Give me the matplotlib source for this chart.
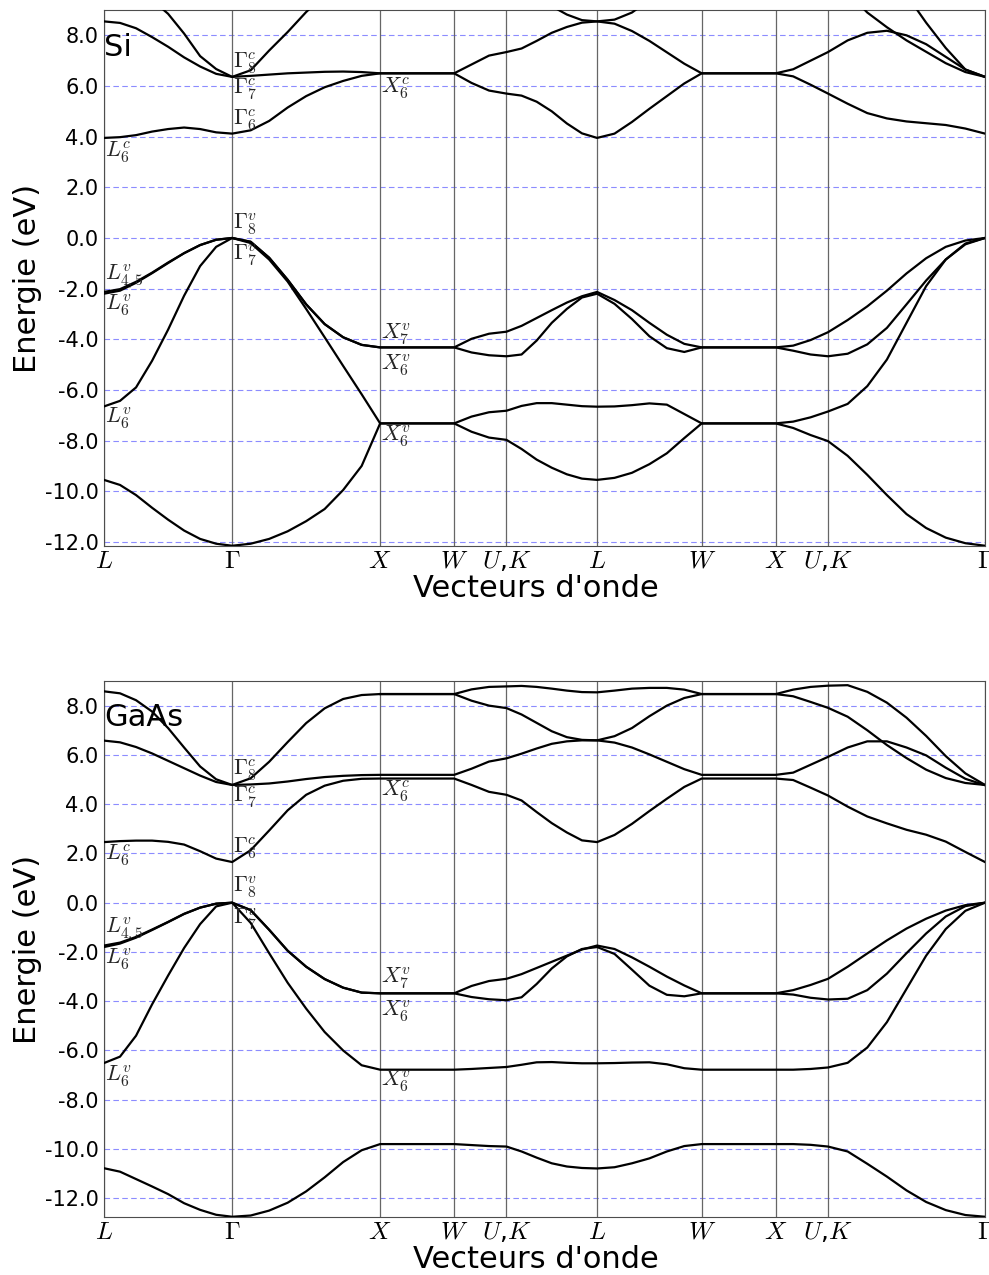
import numpy as np
import matplotlib
matplotlib.use("Agg")  # no display
import matplotlib.pyplot as plt
from matplotlib.ticker import FormatStrFormatter

plt.rcParams["mathtext.fontset"] = "cm"
plt.rcParams["axes.unicode_minus"] = False

nan = np.nan

# path L-G-X-W-K-L-W-X-U-G of the fcc zone, lengths in units of 2pi/a
kpath_labels = [r"$L$", r"$\Gamma$", r"$X$", r"$W$", r"$U$,$K$",
                r"$L$", r"$W$", r"$X$", r"$U$,$K$", r"$\Gamma$"]
seg_len = [np.sqrt(3) / 2, 1.0, 0.5, np.sqrt(2) / 4, np.sqrt(6) / 4,
           np.sqrt(2) / 2, 0.5, np.sqrt(2) / 4, 3 * np.sqrt(2) / 4]
seg_div = [8, 8, 2, 3, 6, 6, 2, 3, 8]

# energies (eV) read along the path, one row per band
# segments: L-G(9) G-X(8) X-W(2) W-K(3) K-L(6) L-W(6) W-X(2) X-U(3) U-G(8)
si_bands = [
    [-9.55, -9.75, -10.15, -10.65, -11.12, -11.55, -11.88, -12.07, -12.15,
     -12.07, -11.88, -11.58, -11.18, -10.7, -9.95, -9.0, -7.32,
     -7.32, -7.32,
     -7.65, -7.88, -7.97,
     -8.33, -8.75, -9.07, -9.33, -9.5, -9.55,
     -9.47, -9.27, -8.93, -8.5, -7.9, -7.32,
     -7.32, -7.32,
     -7.5, -7.78, -8.02,
     -8.6, -9.35, -10.15, -10.9, -11.45, -11.83, -12.05, -12.15],
    [-6.65, -6.43, -5.9, -4.85, -3.62, -2.28, -1.11, -0.35, 0.0,
     -0.2, -0.85, -1.72, -2.8, -3.92, -5.05, -6.17, -7.32,
     -7.32, -7.32,
     -7.05, -6.88, -6.82,
     -6.63, -6.52, -6.52, -6.58, -6.64, -6.66,
     -6.65, -6.6, -6.53, -6.58, -6.95, -7.32,
     -7.32, -7.32,
     -7.25, -7.08, -6.85,
     -6.55, -5.85, -4.8, -3.35, -1.9, -0.85, -0.22, 0.0],
    [-2.2, -2.08, -1.77, -1.39, -0.99, -0.6, -0.28, -0.07, 0.0,
     -0.15, -0.78, -1.65, -2.62, -3.4, -3.92, -4.22, -4.32,
     -4.32, -4.32,
     -4.52, -4.63, -4.67,
     -4.6, -4.05, -3.35, -2.8, -2.35, -2.2,
     -2.6, -3.2, -3.88, -4.35, -4.5, -4.32,
     -4.32, -4.32,
     -4.45, -4.6, -4.67,
     -4.57, -4.2, -3.55, -2.62, -1.68, -0.85, -0.25, 0.0],
    [-2.13, -2.02, -1.73, -1.37, -0.97, -0.6, -0.28, -0.07, 0.0,
     -0.15, -0.78, -1.65, -2.62, -3.4, -3.92, -4.22, -4.32,
     -4.32, -4.32,
     -3.98, -3.78, -3.7,
     -3.47, -3.16, -2.85, -2.55, -2.3, -2.13,
     -2.45, -2.85, -3.35, -3.82, -4.18, -4.32,
     -4.32, -4.32,
     -4.25, -4.03, -3.72,
     -3.24, -2.7, -2.08, -1.4, -0.8, -0.35, -0.1, 0.0],
    [3.95, 3.98, 4.06, 4.2, 4.3, 4.36, 4.3, 4.17, 4.12,
     4.25, 4.62, 5.15, 5.6, 5.95, 6.2, 6.4, 6.5,
     6.5, 6.5,
     6.12, 5.82, 5.7,
     5.62, 5.38, 5.0, 4.52, 4.13, 3.95,
     4.12, 4.58, 5.1, 5.6, 6.1, 6.5,
     6.5, 6.5,
     6.38, 6.05, 5.7,
     5.3, 4.93, 4.72, 4.6, 4.53, 4.46, 4.32, 4.12],
    [8.55, 8.49, 8.28, 7.93, 7.55, 7.13, 6.77, 6.48, 6.36,
     6.4, 6.45, 6.5, 6.53, 6.56, 6.57, 6.55, 6.5,
     6.5, 6.5,
     6.85, 7.2, 7.34,
     7.48, 7.78, 8.1, 8.33, 8.5, 8.55,
     8.46, 8.17, 7.78, 7.33, 6.88, 6.5,
     6.5, 6.5,
     6.66, 7.0, 7.34,
     7.8, 8.1, 8.18, 8.0, 7.65, 7.15, 6.65, 6.36],
    [nan, nan, nan, 9.4, 8.85, 8.07, 7.18, 6.67, 6.36,
     6.62, 7.4, 8.13, 8.92, 9.6, nan, nan, nan,
     nan, nan,
     nan, nan, nan,
     nan, 9.65, 9.15, 8.82, 8.6, 8.55,
     8.62, 8.9, 9.4, nan, nan, nan,
     nan, nan,
     nan, nan, nan,
     9.7, 8.9, 8.32, 7.8, 7.35, 6.9, 6.55, 6.36],
    [nan] * 9 + [nan] * 8 + [nan] * 2 + [nan] * 3 + [nan] * 6 + [nan] * 6
    + [nan] * 2 + [nan] * 3
    + [nan, nan, nan, 9.6, 8.5, 7.5, 6.65, 6.36],
]

gaas_bands = [
    [-10.78, -10.92, -11.22, -11.52, -11.83, -12.2, -12.47, -12.67, -12.75,
     -12.7, -12.5, -12.18, -11.72, -11.15, -10.53, -10.05, -9.8,
     -9.8, -9.8,
     -9.84, -9.88, -9.9,
     -10.1, -10.35, -10.58, -10.71, -10.77, -10.79,
     -10.74, -10.58, -10.38, -10.1, -9.88, -9.8,
     -9.8, -9.8,
     -9.8, -9.83, -9.9,
     -10.1, -10.6, -11.12, -11.68, -12.15, -12.48, -12.68, -12.75],
    [-6.51, -6.25, -5.4, -4.13, -2.96, -1.84, -0.87, -0.15, 0.0,
     -0.82, -2.05, -3.25, -4.3, -5.25, -6.0, -6.6, -6.78,
     -6.78, -6.78,
     -6.75, -6.71, -6.67,
     -6.58, -6.48, -6.47, -6.5, -6.52, -6.52,
     -6.51, -6.49, -6.48, -6.56, -6.72, -6.78,
     -6.78, -6.78,
     -6.78, -6.75, -6.69,
     -6.5, -5.88, -4.85, -3.5, -2.15, -1.07, -0.33, 0.0],
    [-1.8, -1.66, -1.42, -1.11, -0.79, -0.46, -0.2, -0.04, 0.0,
     -0.3, -1.1, -1.95, -2.6, -3.1, -3.45, -3.65, -3.68,
     -3.68, -3.68,
     -3.83, -3.92, -3.96,
     -3.84, -3.3, -2.67, -2.18, -1.88, -1.8,
     -2.08, -2.72, -3.37, -3.74, -3.8, -3.68,
     -3.68, -3.68,
     -3.73, -3.86, -3.93,
     -3.9, -3.55, -2.88, -2.05, -1.25, -0.56, -0.14, 0.0],
    [-1.74, -1.62, -1.39, -1.09, -0.78, -0.45, -0.2, -0.04, 0.0,
     -0.3, -1.1, -1.95, -2.6, -3.1, -3.45, -3.65, -3.68,
     -3.68, -3.68,
     -3.38, -3.18, -3.09,
     -2.9, -2.65, -2.4, -2.15, -1.9, -1.74,
     -1.88, -2.22, -2.6, -3.0, -3.36, -3.68,
     -3.68, -3.68,
     -3.55, -3.34, -3.09,
     -2.6, -2.06, -1.53, -1.05, -0.65, -0.32, -0.1, 0.0],
    [2.46, 2.5, 2.52, 2.52, 2.47, 2.36, 2.09, 1.79, 1.65,
     2.13, 2.93, 3.75, 4.38, 4.75, 4.95, 5.03, 5.04,
     5.04, 5.04,
     4.78, 4.5, 4.38,
     4.15, 3.68, 3.23, 2.85, 2.53, 2.46,
     2.75, 3.2, 3.72, 4.22, 4.7, 5.04,
     5.04, 5.04,
     4.98, 4.67, 4.35,
     3.9, 3.5, 3.22, 2.96, 2.76, 2.48, 2.06, 1.65],
    [6.58, 6.51, 6.32, 6.06, 5.76, 5.46, 5.16, 4.9, 4.78,
     4.8, 4.84, 4.92, 5.02, 5.1, 5.15, 5.18, 5.19,
     5.19, 5.19,
     5.44, 5.73, 5.86,
     6.05, 6.26, 6.45, 6.55, 6.59, 6.59,
     6.5, 6.3, 6.02, 5.72, 5.42, 5.19,
     5.19, 5.19,
     5.28, 5.6, 5.92,
     6.3, 6.55, 6.55, 6.3, 5.98, 5.48, 5.03, 4.77],
    [8.58, 8.5, 8.22, 7.76, 7.09, 6.3, 5.53, 5.01, 4.78,
     5.05, 5.72, 6.52, 7.29, 7.89, 8.27, 8.43, 8.47,
     8.47, 8.47,
     8.2, 8.0, 7.9,
     7.64, 7.3, 6.96, 6.72, 6.61, 6.59,
     6.76, 7.09, 7.57, 8.0, 8.31, 8.47,
     8.47, 8.47,
     8.38, 8.15, 7.91,
     7.55, 7.0, 6.4, 5.87, 5.4, 5.06, 4.86, 4.78],
    [nan] * 9 + [nan] * 7 + [8.47,
     8.47, 8.47,
     8.66, 8.76, 8.78,
     8.8, 8.76, 8.69, 8.61, 8.55, 8.54,
     8.61, 8.69, 8.72, 8.72, 8.65, 8.47,
     8.47, 8.47,
     8.65, 8.76, 8.81,
     8.83, 8.56, 8.12, 7.51, 6.77, 5.95, 5.25, 4.78],
]

# state labels: text, index of the k point, energy of the label centre
si_states = [
    (r"$\Gamma_8^c$", 1, 6.91), (r"$\Gamma_7^c$", 1, 5.85),
    (r"$\Gamma_6^c$", 1, 4.66), (r"$X_6^c$", 2, 5.92), (r"$L_6^c$", 0, 3.36),
    (r"$\Gamma_8^v$", 1, 0.52), (r"$\Gamma_7^v$", 1, -0.7),
    (r"$L_{4,5}^v$", 0, -1.49), (r"$L_6^v$", 0, -2.67),
    (r"$L_6^v$", 0, -7.12), (r"$X_7^v$", 2, -3.81),
    (r"$X_6^v$", 2, -5.03), (r"$X_6^v$", 2, -7.83),
]
gaas_states = [
    (r"$\Gamma_8^c$", 1, 5.38), (r"$\Gamma_7^c$", 1, 4.28),
    (r"$\Gamma_6^c$", 1, 2.21), (r"$X_6^c$", 2, 4.53), (r"$L_6^c$", 0, 1.92),
    (r"$\Gamma_8^v$", 1, 0.62), (r"$\Gamma_7^v$", 1, -0.68),
    (r"$L_{4,5}^v$", 0, -1.08), (r"$L_6^v$", 0, -2.3),
    (r"$L_6^v$", 0, -7.06), (r"$X_7^v$", 2, -3.08),
    (r"$X_6^v$", 2, -4.41), (r"$X_6^v$", 2, -7.26),
]

kticks = np.concatenate([[0.0], np.cumsum(seg_len)])
k = [0.0]
for a, b, n in zip(kticks[:-1], kticks[1:], seg_div):
    k.extend(np.linspace(a, b, n + 1)[1:])
k = np.array(k)


def draw(ax, bands, name, states):
    bands = np.array(bands, dtype=float)
    ax.set_axisbelow(True)
    ax.grid(axis="y", color="#8c8cff", lw=0.8, ls=(0, (5, 3)))
    ax.grid(axis="x", visible=False)
    for x in kticks:
        ax.axvline(x, color="0.4", lw=0.9, zorder=1)
    for e in bands:
        ax.plot(k, e, color="black", lw=1.6, zorder=3,
                solid_joinstyle="round")
    for txt, i, y in states:
        dx = 0.005 if i == 0 else 0.009
        ax.text(kticks[i] + dx, y, txt, fontsize=16, color="0.15",
                ha="left", va="center", zorder=4)
    ax.text(0.0, 7.5, name, fontsize=22, ha="left", va="center")
    ax.set_xlim(0, kticks[-1])
    ax.set_ylim(np.nanmin(bands) - 0.01, 9.0)
    ax.set_yticks(np.arange(-12, 9, 2))
    ax.yaxis.set_major_formatter(FormatStrFormatter("%.1f"))
    ax.set_xticks(kticks)
    ax.set_xticklabels(kpath_labels)
    ax.tick_params(axis="y", length=0, labelsize=15, pad=4)
    ax.tick_params(axis="x", length=0, labelsize=18, pad=2)
    for s in ax.spines.values():
        s.set_color("0.3")
    ax.set_ylabel("Energie (eV)", fontsize=22, labelpad=2)
    ax.set_xlabel("Vecteurs d'onde", fontsize=22)
    ax.xaxis.set_label_coords(0.49, -0.052)


fig = plt.figure(figsize=(9.89, 12.75), dpi=100)
W, H = 989, 1275
ax1 = fig.add_axes([104 / W, 1 - 546 / H, 881 / W, 536 / H])
ax2 = fig.add_axes([104 / W, 1 - 1217 / H, 881 / W, 536 / H])

draw(ax1, si_bands, "Si", si_states)
draw(ax2, gaas_bands, "GaAs", gaas_states)

fig.savefig("out.png", dpi=100)
